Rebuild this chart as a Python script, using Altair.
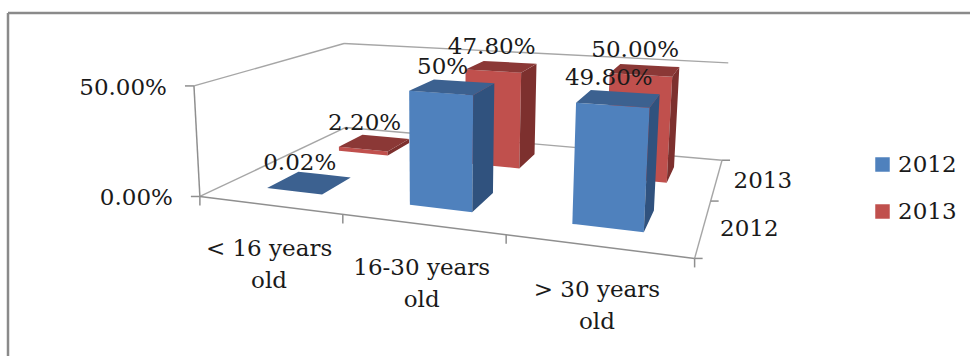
import altair as alt
import numpy as np
import pandas as pd

# Chart values
categories = ["< 16 years\nold", "16-30 years\nold", "> 30 years\nold"]
series_names = ["2012", "2013"]
values_2012 = [0.02, 50.0, 49.8]
values_2013 = [2.2, 47.8, 50.0]
labels_2012 = ["0.02%", "50%", "49.80%"]
labels_2013 = ["2.20%", "47.80%", "50.00%"]
axis_ticks = [0.0, 50.0]
axis_tick_labels = ["0.00%", "50.00%"]
axis_max = 50.0

# Camera: box coordinates (category, series, height; each 0..1) to canvas pixels
WIDTH, HEIGHT = 970, 356
camera_box = [(0, 0, 0), (1, 0, 0), (1, 1, 0), (0, 1, 0), (0, 0, 1), (0, 1, 1), (1, 1, 1),
              (1 / 3, 0, 0), (2 / 3, 0, 0), (1, 0.5, 0),
              (0.7667, 0.15, 0.996), (0.7667, 0.15, 0), (0.9, 0.15, 0.996), (0.9, 0.15, 0), (0.9, 0.35, 0.996),
              (0.4333, 0.15, 1), (0.4333, 0.15, 0), (0.5667, 0.15, 1), (0.5667, 0.15, 0),
              (0.5667, 0.35, 1), (0.5667, 0.35, 0),
              (0.5667, 0.65, 0.956), (0.5667, 0.65, 0), (0.9, 0.65, 1), (0.9, 0.65, 0)]
camera_px = [(201, 196), (695, 258), (725, 160), (345, 129), (193, 85), (345, 43), (727, 63),
             (342, 215), (505, 236), (710, 201),
             (578, 103), (572, 224), (651, 108), (643, 232), (660, 96),
             (409, 91), (411, 205), (473, 95), (473, 212),
             (494, 83), (493, 193),
             (521, 72), (519, 167), (671, 77), (665, 182)]


def fit_camera(box, px):
    rows, rhs = [], []
    for (u, v, w), (x, y) in zip(box, px):
        rows.append([u, v, w, 1, 0, 0, 0, 0, -x * u, -x * v, -x * w])
        rhs.append(x)
        rows.append([0, 0, 0, 0, u, v, w, 1, -y * u, -y * v, -y * w])
        rhs.append(y)
    p = np.linalg.lstsq(np.array(rows, float), np.array(rhs, float), rcond=None)[0]
    return np.append(p, 1.0).reshape(3, 4)


CAM = fit_camera(camera_box, camera_px)


def project(u, v, w):
    hx, hy, hw = CAM @ np.array([u, v, w, 1.0])
    return hx / hw, hy / hw


def quad_rows(points):
    """Upper and lower outline of a convex polygon, one row per vertex x, for an area mark."""
    rows = []
    n = len(points)
    for x in sorted({p[0] for p in points}):
        ys = []
        for i in range(n):
            (x0, y0), (x1, y1) = points[i], points[(i + 1) % n]
            if min(x0, x1) <= x <= max(x0, x1):
                if x0 == x1:
                    ys += [y0, y1]
                else:
                    ys.append(y0 + (y1 - y0) * (x - x0) / (x1 - x0))
        rows.append({"x": x, "y": min(ys), "y2": max(ys)})
    return rows


X = alt.X("x:Q", scale=alt.Scale(domain=[0, WIDTH]), axis=None)
Y = alt.Y("y:Q", scale=alt.Scale(domain=[HEIGHT, 0]), axis=None)

FRONT = {"2012": "#4F81BD", "2013": "#C0504D"}
SIDE = {"2012": "#30527E", "2013": "#7D302E"}
TOP = {"2012": "#3C6190", "2013": "#8B3836"}
FONT = "DejaVu Serif"
TEXT_SIZE = 23
BAR_U = 0.2 / 1.5   # bar width in category units
BAR_V = 0.2         # bar depth in series units


def segment_layer(segments, color, width):
    df = pd.DataFrame(
        [{"x": a[0], "y": a[1], "x2": b[0], "y2": b[1]} for a, b in segments]
    )
    return alt.Chart(df).mark_rule(color=color, strokeWidth=width).encode(
        x=X, y=Y, x2="x2:Q", y2="y2:Q"
    )


# Frame, walls and floor
frame = segment_layer([((8, 13), (WIDTH, 13)), ((8, 13), (8, HEIGHT))], "#8a8a8a", 2.5)
walls = segment_layer(
    [
        (project(0, 0, 1), project(0, 1, 1)),
        (project(0, 1, 1), project(1, 1, 1)),
        (project(0, 0, 0), project(0, 1, 0)),
        (project(0, 1, 0), project(1, 1, 0)),
        (project(1, 1, 0), project(1, 0, 0)),
    ],
    "#a6a6a6",
    1.4,
)
front_axes = [(project(0, 0, 0), project(1, 0, 0)), (project(0, 0, 0), project(0, 0, 1))]
for t in axis_ticks:
    p = project(0, 0, t / axis_max)
    front_axes.append(((p[0] - 9, p[1]), p))
for i in range(len(categories) + 1):
    p = project(i / len(categories), 0, 0)
    front_axes.append((p, (p[0], p[1] + 9)))
for j in range(len(series_names) + 1):
    p = project(1, j / len(series_names), 0)
    front_axes.append((p, (p[0] + 8, p[1])))
axes = segment_layer(front_axes, "#8f8f8f", 1.5)


def bar_layers(cat, ser, value):
    name = series_names[ser]
    uc = (cat + 0.5) / len(categories)
    vc = (ser + 0.5) / len(series_names)
    u0, u1 = uc - BAR_U / 2, uc + BAR_U / 2
    v0, v1 = vc - BAR_V / 2, vc + BAR_V / 2
    w = value / axis_max
    front = [project(u0, v0, 0), project(u1, v0, 0), project(u1, v0, w), project(u0, v0, w)]
    side = [project(u1, v0, 0), project(u1, v1, 0), project(u1, v1, w), project(u1, v0, w)]
    top = [project(u0, v0, w), project(u1, v0, w), project(u1, v1, w), project(u0, v1, w)]
    front_df = pd.DataFrame(quad_rows(front)).assign(series=name)
    return [
        alt.Chart(front_df).mark_area(interpolate="linear").encode(
            x=X, y=Y, y2="y2:Q",
            color=alt.Color(
                "series:N",
                scale=alt.Scale(domain=series_names, range=[FRONT[s] for s in series_names]),
                legend=alt.Legend(
                    title=None,
                    orient="none",
                    legendX=871,
                    legendY=153,
                    symbolType="square",
                    symbolSize=210,
                    symbolStrokeWidth=0,
                    labelFont=FONT,
                    labelFontSize=TEXT_SIZE,
                    labelColor="#1a1a1a",
                    labelOffset=4,
                    rowPadding=23,
                ),
            ),
        ),
        alt.Chart(pd.DataFrame(quad_rows(side))).mark_area(interpolate="linear", color=SIDE[name]).encode(
            x=X, y=Y, y2="y2:Q"
        ),
        alt.Chart(pd.DataFrame(quad_rows(top))).mark_area(interpolate="linear", color=TOP[name]).encode(
            x=X, y=Y, y2="y2:Q"
        ),
    ]


# Back row first so the nearer bars paint over it
bars = []
for ser, vals in reversed(list(enumerate([values_2012, values_2013]))):
    for cat, val in enumerate(vals):
        bars += bar_layers(cat, ser, val)


def text_layer(rows, **mark):
    return alt.Chart(pd.DataFrame(rows)).mark_text(
        font=FONT, fontSize=TEXT_SIZE, color="#1a1a1a", **mark
    ).encode(x=X, y=Y, text="label:N")


# Value labels sit just above the centre of each bar's top face
value_rows = []
for ser, (vals, labs) in enumerate([(values_2012, labels_2012), (values_2013, labels_2013)]):
    for cat, (val, lab) in enumerate(zip(vals, labs)):
        px, py = project((cat + 0.5) / len(categories), (ser + 0.5) / len(series_names), val / axis_max)
        value_rows.append({"x": px, "y": py, "label": lab})
value_text = text_layer(value_rows, align="center", baseline="middle", dx=-10, dy=-20)

axis_rows = []
for t, lab in zip(axis_ticks, axis_tick_labels):
    px, py = project(0, 0, t / axis_max)
    axis_rows.append({"x": px, "y": py, "label": lab})
axis_text = text_layer(axis_rows, align="right", baseline="middle", dx=-27, dy=2)

cat_rows = []
for i, lab in enumerate(categories):
    px, py = project((i + 0.5) / len(categories), 0, 0)
    cat_rows.append({"x": px, "y": py, "label": lab})
cat_text = text_layer(cat_rows, align="center", baseline="top", dx=0, dy=33, lineBreak="\n", lineHeight=32)

series_rows = []
for j, lab in enumerate(series_names):
    px, py = project(1, (j + 0.5) / len(series_names), 0)
    series_rows.append({"x": px, "y": py, "label": lab})
series_text = text_layer(series_rows, align="center", baseline="middle", dx=46, dy=2)

chart = alt.layer(frame, walls, axes, *bars, value_text, axis_text, cat_text, series_text).properties(
    width=WIDTH,
    height=HEIGHT,
    padding=0,
    autosize=alt.AutoSizeParams(type="none"),
    background="white",
).configure_view(stroke=None)

chart.save("out.html", embed_options={"renderer": "svg", "actions": False})
